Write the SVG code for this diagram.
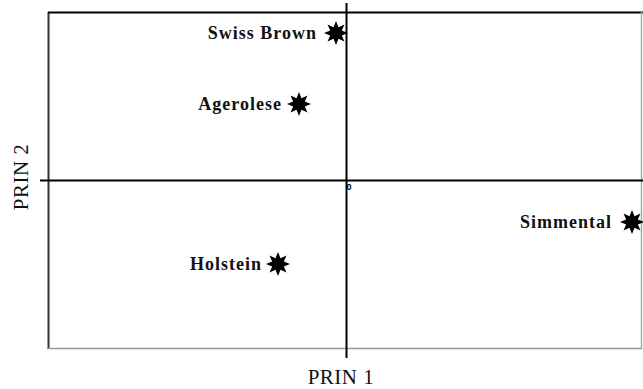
<svg xmlns="http://www.w3.org/2000/svg" width="643" height="389" viewBox="0 0 643 389">
<style>
.lbl{font-family:"Liberation Serif","Times New Roman",serif;font-weight:bold;font-size:18px;letter-spacing:1px;fill:#111;text-anchor:end}
.ax{font-family:"Liberation Serif","Times New Roman",serif;font-size:21px;letter-spacing:0.5px;fill:#111}
.star{fill:#000}
</style>
<defs>
<polygon id="st" points="0,-12 2.5,-5.8 8.5,-8.5 5.8,-2.5 12,0 5.8,2.5 8.5,8.5 2.5,5.8 0,12 -2.5,5.8 -8.5,8.5 -5.8,2.5 -12,0 -5.8,-2.5 -8.5,-8.5 -2.5,-5.8"/>
</defs>
<rect width="643" height="389" fill="#fff"/>
<g id="frame">
<line x1="48.5" y1="12" x2="48.5" y2="349" stroke="#333" stroke-width="2"/>
<line x1="48" y1="12.5" x2="643" y2="12.5" stroke="#000" stroke-width="2"/>
<line x1="641.5" y1="12" x2="641.5" y2="349" stroke="#aaa" stroke-width="1.5"/>
<line x1="48" y1="348.5" x2="642" y2="348.5" stroke="#999" stroke-width="1.5"/>
</g>
<g id="connectors">
<line x1="40" y1="180.5" x2="643" y2="180.5" stroke="#000" stroke-width="2"/>
<line x1="346.5" y1="3" x2="346.5" y2="358" stroke="#000" stroke-width="2"/>
</g>
<text x="349" y="190" font-family="Liberation Sans,Arial,sans-serif" font-size="9" font-weight="bold" text-anchor="middle" fill="#000">0</text>
<g id="swiss-brown">
<use href="#st" x="336" y="33" class="star"/>
<text class="lbl" x="317" y="39">Swiss Brown</text>
</g>
<g id="agerolese">
<use href="#st" x="299" y="104" class="star"/>
<text class="lbl" x="282" y="110">Agerolese</text>
</g>
<g id="holstein">
<use href="#st" x="278" y="264" class="star"/>
<text class="lbl" x="262" y="270">Holstein</text>
</g>
<g id="simmental">
<use href="#st" x="632" y="222" class="star"/>
<text class="lbl" x="612" y="228">Simmental</text>
</g>
<text class="ax" x="341" y="384" text-anchor="middle">PRIN 1</text>
<text class="ax" transform="translate(28,177) rotate(-90)" text-anchor="middle">PRIN 2</text>
</svg>
